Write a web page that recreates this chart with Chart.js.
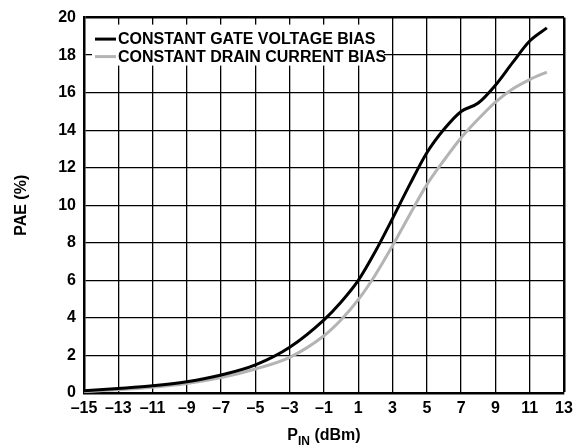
<!DOCTYPE html>
<html lang="en">
<head>
<meta charset="UTF-8">
<title>PAE vs PIN</title>
<script src="https://cdn.jsdelivr.net/npm/chart.js"></script>
<style>
  body { margin: 0; background: #fff; }
  #wrap { width: 581px; height: 448px; position: relative; }
</style>
</head>
<body>
<div id="wrap"><canvas id="myChart"></canvas></div>
<script>
// data
const pin = [-15, -13, -11, -9, -7, -5, -3, -1, 0, 1, 2, 3, 4, 5, 6, 7, 8, 9, 10, 11, 12];
const gateBias = [0.12, 0.24, 0.38, 0.6, 0.96, 1.5, 2.44, 3.9, 4.85, 6.0, 7.55, 9.3, 11.1, 12.8, 14.05, 15.0, 15.45, 16.4, 17.6, 18.75, 19.45];
const drainBias = [0.08, 0.17, 0.3, 0.5, 0.82, 1.28, 1.9, 3.05, 3.9, 4.97, 6.3, 7.85, 9.5, 11.1, 12.4, 13.6, 14.6, 15.5, 16.2, 16.7, 17.1];
const seriesNames = ['CONSTANT GATE VOLTAGE BIAS', 'CONSTANT DRAIN CURRENT BIAS'];
const seriesColors = ['#000000', '#b4b4b4'];
const xTicks = [-15, -13, -11, -9, -7, -5, -3, -1, 1, 3, 5, 7, 9, 11, 13];
const yTicks = [0, 2, 4, 6, 8, 10, 12, 14, 16, 18, 20];

const FAMILY = "'Liberation Sans', Arial, sans-serif";
const font = { family: FAMILY, size: 16, weight: 'bold' };

function pts(ys) {
    return pin.map((x, i) => ({ x: x, y: ys[i] }));
}

// legend box sitting inside the plot, over the grid
const insideLegend = {
    id: 'insideLegend',
    beforeDatasetsDraw(chart) {
        const c = chart.ctx;
        const a = chart.chartArea;
        c.save();
        c.fillStyle = '#fff';
        c.fillRect(a.left + 8, a.top + 7, 292, 41);
        c.font = 'bold 16px ' + FAMILY;
        c.textBaseline = 'middle';
        seriesNames.forEach((name, i) => {
            const y = a.top + 21.5 + i * 17.5;
            c.strokeStyle = seriesColors[i];
            c.lineWidth = 3;
            c.beginPath();
            c.moveTo(a.left + 11, y);
            c.lineTo(a.left + 32, y);
            c.stroke();
            c.fillStyle = '#000';
            c.fillText(name, a.left + 34, y + 0.5);
        });
        c.restore();
    }
};

// x title with subscript
const xTitle = {
    id: 'xTitle',
    afterDraw(chart) {
        const c = chart.ctx;
        const a = chart.chartArea;
        c.save();
        c.fillStyle = '#000';
        c.textBaseline = 'alphabetic';
        const big = 'bold 16px ' + FAMILY;
        const small = 'bold 12px ' + FAMILY;
        c.font = big;
        const wP = c.measureText('P').width;
        const wRest = c.measureText(' (dBm)').width;
        c.font = small;
        const wIn = c.measureText('IN').width;
        let x = (a.left + a.right) / 2 - (wP + wIn + wRest) / 2;
        const base = 440;
        c.font = big;
        c.fillText('P', x, base);
        x += wP;
        c.font = small;
        c.fillText('IN', x, base + 5);
        x += wIn;
        c.font = big;
        c.fillText(' (dBm)', x, base);
        c.restore();
    }
};

const ctx = document.getElementById('myChart').getContext('2d');
const myChart = new Chart(ctx, {
    type: 'line',
    data: {
        datasets: [
            {
                label: seriesNames[0],
                data: pts(gateBias),
                borderColor: seriesColors[0],
                borderWidth: 3,
                pointRadius: 0,
                cubicInterpolationMode: 'monotone',
                fill: false
            },
            {
                label: seriesNames[1],
                data: pts(drainBias),
                borderColor: seriesColors[1],
                borderWidth: 3,
                pointRadius: 0,
                cubicInterpolationMode: 'monotone',
                fill: false
            }
        ]
    },
    plugins: [insideLegend, xTitle],
    options: {
        animation: false,
        responsive: true,
        maintainAspectRatio: false,
        layout: { padding: { top: 10, right: 17, left: 0, bottom: 0 } },
        scales: {
            x: {
                type: 'linear',
                min: -15,
                max: 13,
                afterBuildTicks: s => { s.ticks = xTicks.map(v => ({ value: v })); },
                afterFit: s => { s.height = 55; },
                grid: {
                    color: '#000',
                    lineWidth: c => (c.tick && c.tick.value === 13 ? 2.5 : 1.3),
                    drawTicks: false
                },
                border: { color: '#000', width: 2.5 },
                ticks: {
                    color: '#000',
                    font: font,
                    padding: 6,
                    maxRotation: 0,
                    autoSkip: false,
                    callback: v => String(v).replace('-', '\u2013')
                }
            },
            y: {
                min: 0,
                max: 20,
                afterBuildTicks: s => { s.ticks = yTicks.map(v => ({ value: v })); },
                afterFit: s => { s.width = 84; },
                grid: {
                    color: '#000',
                    lineWidth: c => (c.tick && c.tick.value === 20 ? 2.5 : 1.3),
                    drawTicks: false
                },
                border: { color: '#000', width: 2.5 },
                ticks: {
                    color: '#000',
                    font: font,
                    padding: 8
                },
                title: {
                    display: true,
                    text: 'PAE (%)',
                    color: '#000',
                    font: font,
                    padding: { top: 12, bottom: 0 }
                }
            }
        },
        plugins: {
            legend: { display: false },
            tooltip: { enabled: false }
        }
    }
});
</script>
</body>
</html>
